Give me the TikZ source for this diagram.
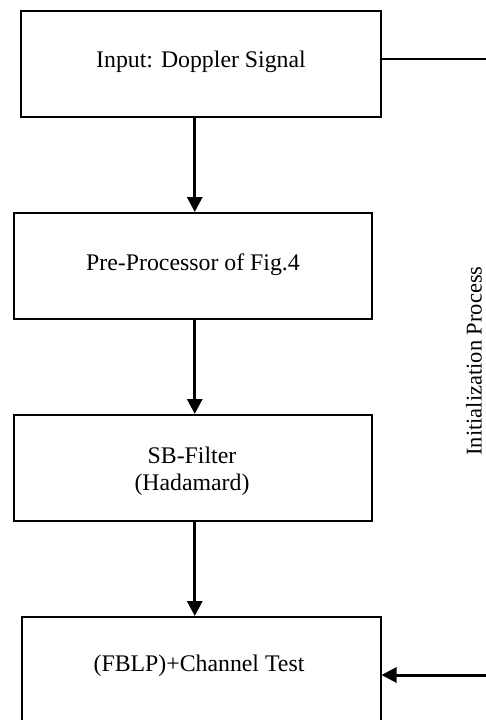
\documentclass[tikz,border=0pt]{standalone}
\usepackage{fontspec}
\setmainfont{Liberation Serif}
\usetikzlibrary{arrows.meta}
\begin{document}
\begin{tikzpicture}[x=1pt,y=-1pt,
  box/.style={draw,line width=1.5pt,rectangle,inner sep=0pt,anchor=north west},
  txt/.style={font=\fontsize{23.8}{27}\selectfont,inner sep=0pt,anchor=base},
  arr/.style={line width=3pt,-{Triangle[length=15pt,width=15pt]}},
  thin/.style={line width=1.3pt}]
\useasboundingbox (0,0) rectangle (486,720);
\fill[white] (0,0) rectangle (486,720);
\node[box,minimum width=360pt,minimum height=106pt] (b1) at (20,10) {};
\node[box,minimum width=358pt,minimum height=106pt] (b2) at (13,212) {};
\node[box,minimum width=358pt,minimum height=106pt] (b3) at (13,414) {};
\node[box,minimum width=359pt,minimum height=150pt] (b4) at (21,616) {};
\node[txt] (t1) at (201,67) {Input: Doppler Signal};
\node[txt] (t2) at (193,270) {Pre-Processor of Fig.4};
\node[txt] (t3a) at (192,463) {SB-Filter};
\node[txt] (t3b) at (192,490) {(Hadamard)};
\node[txt] (t4) at (199,671) {(FBLP)+Channel Test};
\node[font=\fontsize{22.5}{27}\selectfont,inner sep=0pt,rotate=90,anchor=south] (lbl) at (482,361) {Initialization Process};
\coordinate (r1) at (486,59);
\coordinate (r4) at (486,675);
\draw[thin] (b1.east |- r1) -- (r1);
\draw[arr] ([xshift=-6pt]b1.south) -- ([xshift=2pt]b2.north);
\draw[arr] ([xshift=2pt]b2.south) -- ([xshift=2pt]b3.north);
\draw[arr] ([xshift=2pt]b3.south) -- ([xshift=-6.5pt]b4.north);
\draw[arr] (r4) -- (b4.east |- r4);
\end{tikzpicture}
\end{document}
